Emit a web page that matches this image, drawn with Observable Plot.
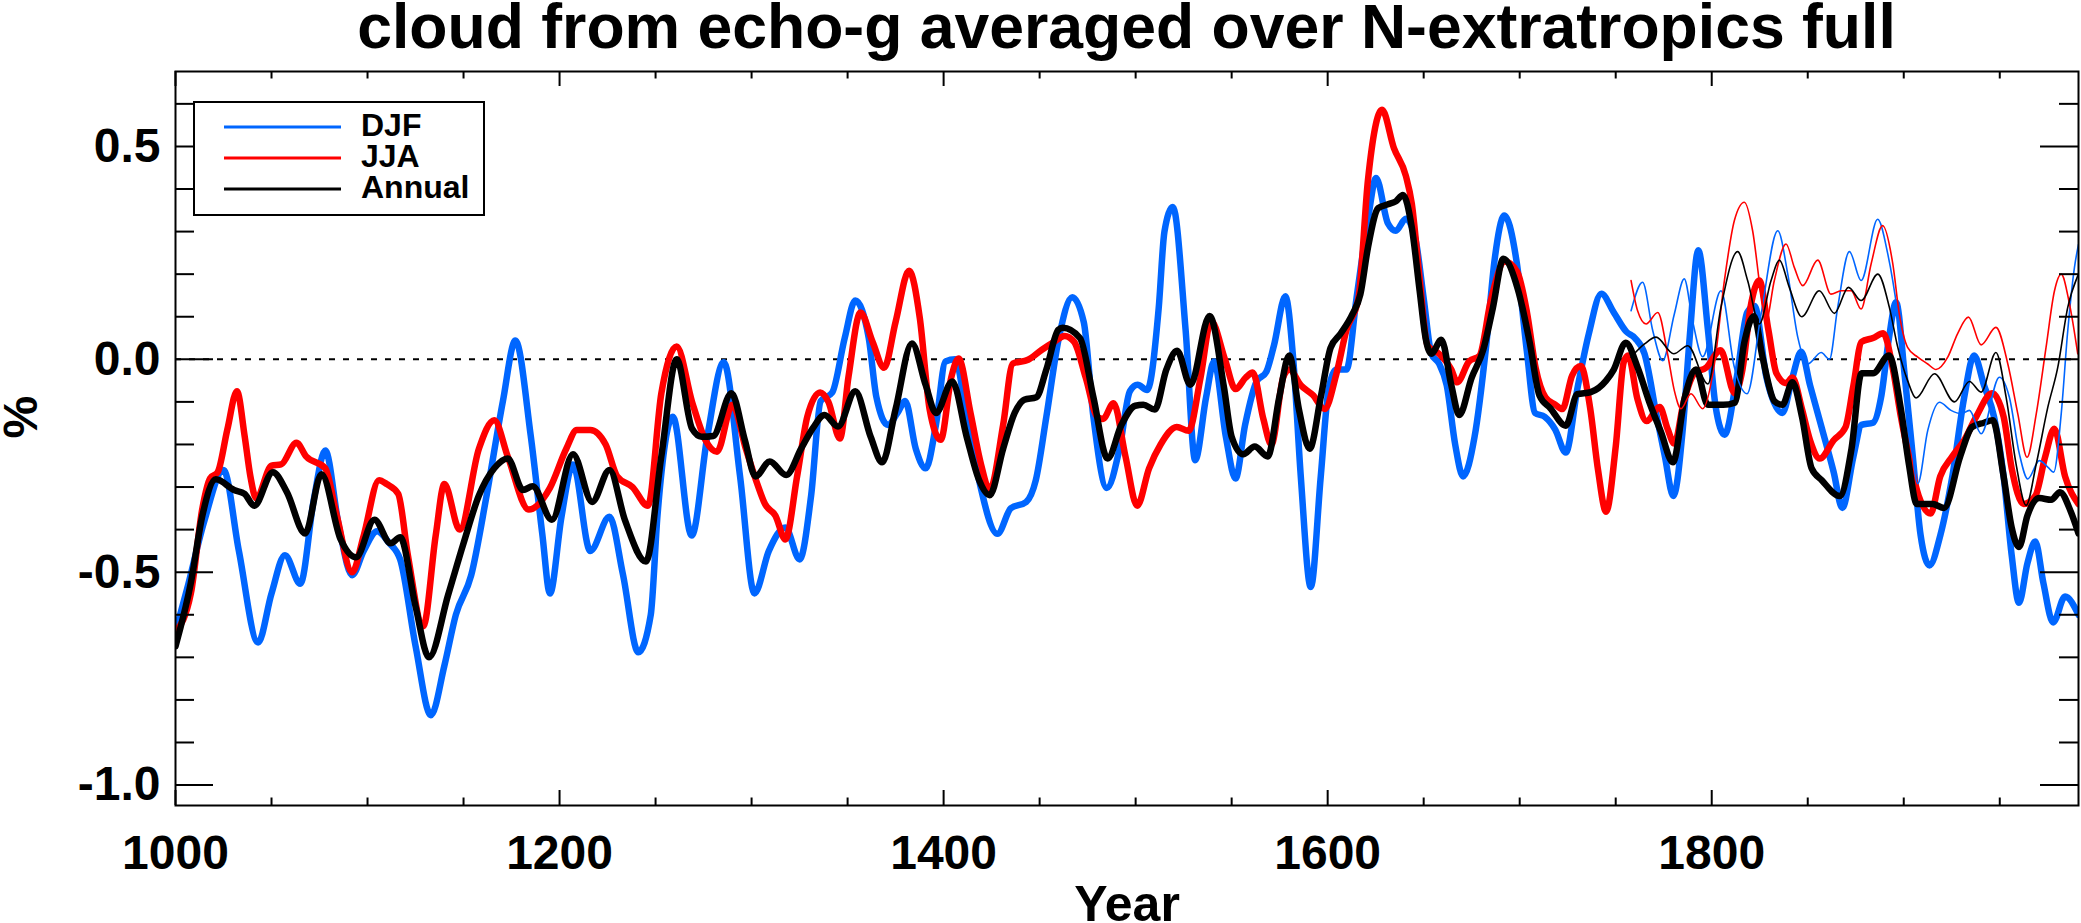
<!DOCTYPE html>
<html><head><meta charset="utf-8">
<script src="https://cdn.jsdelivr.net/npm/d3@7"></script>
<script src="https://cdn.jsdelivr.net/npm/@observablehq/plot@0.6"></script>
<style>
body{margin:0;background:#fff;font-family:"Liberation Sans",Arial,sans-serif;}
#wrap{position:relative;width:2081px;height:923px;overflow:hidden;background:#fff}
#title{box-sizing:border-box;height:66px;padding-left:175px;padding-right:3px;text-align:center;font-weight:bold;font-size:62.5px;white-space:nowrap;line-height:52px;overflow:visible}
#legend{position:absolute;left:193px;top:101px;}
#chart svg{display:block}
</style></head>
<body>
<div id="wrap">
  <div id="title">cloud from echo-g averaged over N-extratropics full</div>
  <div id="chart"></div>
  <svg id="legend" width="292" height="115"></svg>
</div>
<script>
// ---- data: [year, % anomaly] ----
const djf = [[1000,-0.64],[1006,-0.54],[1015,-0.38],[1025,-0.26],[1033,-0.45],[1043,-0.665],[1050,-0.55],[1057,-0.46],[1065,-0.527],[1072,-0.33],[1078,-0.214],[1085,-0.39],[1092,-0.507],[1098,-0.45],[1105,-0.404],[1111,-0.43],[1117,-0.47],[1125,-0.673],[1133,-0.836],[1140,-0.72],[1146,-0.6],[1154,-0.507],[1162,-0.32],[1170.5,-0.098],[1177,0.044],[1185,-0.18],[1191,-0.41],[1195,-0.55],[1201,-0.37],[1207,-0.247],[1216,-0.45],[1226,-0.37],[1233,-0.505],[1241,-0.688],[1247.5,-0.6],[1251,-0.367],[1259,-0.135],[1268.8,-0.414],[1277,-0.18],[1285.5,-0.007],[1294,-0.275],[1301.5,-0.55],[1309,-0.45],[1317.6,-0.395],[1325,-0.47],[1331,-0.32],[1336,-0.098],[1342,-0.078],[1348.5,0.05],[1354,0.138],[1361,0.05],[1365,-0.089],[1371,-0.154],[1376,-0.126],[1380,-0.098],[1385.5,-0.21],[1390.7,-0.256],[1396,-0.154],[1401,-0.005],[1406,0],[1412,-0.135],[1418,-0.275],[1428,-0.41],[1435,-0.35],[1443,-0.335],[1448,-0.284],[1453.5,-0.135],[1460,0.05],[1467,0.146],[1473,0.087],[1478,-0.135],[1485,-0.302],[1491.6,-0.21],[1497,-0.075],[1501,-0.06],[1506,-0.072],[1512,0.12],[1515,0.3],[1519.4,0.358],[1526,0.07],[1531,-0.237],[1536.7,-0.089],[1540.8,-0.005],[1547,-0.182],[1552,-0.28],[1557,-0.154],[1563,-0.052],[1568,-0.03],[1572,0.032],[1578,0.148],[1582,0.004],[1586,-0.275],[1591.2,-0.535],[1596.4,-0.275],[1600.5,-0.07],[1604.6,-0.024],[1609.8,-0.024],[1615,0.143],[1621,0.329],[1625.2,0.426],[1631.4,0.319],[1635.5,0.302],[1640.7,0.33],[1645.8,0.28],[1650,0.143],[1654,0.013],[1658,-0.01],[1662,-0.061],[1666.4,-0.2],[1670.5,-0.275],[1676.5,-0.182],[1682.5,0.03],[1687,0.236],[1692,0.338],[1698.5,0.226],[1703.7,0.02],[1708,-0.126],[1713,-0.135],[1718.5,-0.165],[1724,-0.219],[1730,-0.07],[1736,0.06],[1742.5,0.154],[1749,0.11],[1755.5,0.065],[1760,0.05],[1765,0.013],[1771.4,-0.135],[1775.6,-0.228],[1780,-0.321],[1785,-0.16],[1788.5,0.05],[1793,0.256],[1798,0.07],[1802,-0.11],[1806.7,-0.177],[1813,-0.043],[1818.5,0.11],[1822.3,0.125],[1828.5,-0.043],[1836.8,-0.126],[1842,-0.043],[1846.6,0.018],[1851.2,-0.061],[1857.4,-0.163],[1863.5,-0.265],[1868,-0.349],[1873.8,-0.228],[1878,-0.154],[1884,-0.149],[1888.2,-0.089],[1892.3,0.05],[1896,0.134],[1900.6,-0.043],[1904.7,-0.228],[1908.8,-0.414],[1913.4,-0.484],[1919,-0.414],[1925.3,-0.275],[1931.5,-0.089],[1936.6,0.009],[1941.8,-0.061],[1947,-0.135],[1952,-0.275],[1956.2,-0.46],[1960,-0.572],[1964.4,-0.479],[1968.5,-0.428],[1972.7,-0.525],[1977.8,-0.618],[1984,-0.557],[1991,-0.6]];

const jja = [[1000,-0.64],[1008,-0.55],[1014,-0.35],[1018,-0.28],[1022,-0.265],[1027,-0.165],[1032,-0.075],[1036,-0.18],[1039,-0.275],[1042,-0.326],[1050,-0.25],[1055,-0.247],[1063,-0.196],[1068,-0.228],[1078,-0.256],[1084,-0.367],[1092,-0.5],[1098,-0.414],[1106,-0.284],[1110,-0.293],[1116,-0.316],[1121,-0.46],[1129,-0.627],[1135.5,-0.414],[1140,-0.293],[1148,-0.4],[1158,-0.21],[1166,-0.143],[1173,-0.228],[1184,-0.353],[1195,-0.302],[1203.5,-0.21],[1209,-0.166],[1216,-0.166],[1224,-0.2],[1230,-0.275],[1238,-0.3],[1246,-0.344],[1253,-0.08],[1261,0.03],[1269,-0.1],[1276,-0.19],[1282,-0.217],[1290,-0.107],[1297,-0.21],[1303,-0.293],[1307,-0.34],[1312.4,-0.367],[1317.6,-0.423],[1323.7,-0.275],[1329,-0.135],[1335.7,-0.078],[1340,-0.1],[1346,-0.186],[1350.5,-0.04],[1356.7,0.11],[1363,0.041],[1369,-0.02],[1375,0.088],[1382,0.208],[1387.6,0.097],[1392.7,-0.117],[1398.5,-0.189],[1404,-0.042],[1407.8,0.002],[1414,-0.126],[1419.5,-0.247],[1424,-0.307],[1431,-0.154],[1436,-0.01],[1444,-0.001],[1451,0.022],[1457.6,0.041],[1463,0.055],[1468,0.041],[1474,-0.043],[1480,-0.135],[1483,-0.14],[1488.5,-0.103],[1494.7,-0.228],[1500.8,-0.344],[1507,-0.256],[1513,-0.2],[1521.4,-0.159],[1527.6,-0.168],[1533.8,-0.043],[1539.3,0.09],[1546.5,0.0],[1552,-0.07],[1557.3,-0.043],[1561,-0.031],[1566.5,-0.14],[1570.7,-0.2],[1576.8,-0.043],[1580,-0.024],[1586,-0.061],[1592.3,-0.084],[1598.4,-0.117],[1604.6,-0.033],[1609.8,0.069],[1616,0.143],[1621,0.422],[1628.3,0.586],[1634.5,0.496],[1640.7,0.431],[1643.8,0.366],[1647.9,0.189],[1652,0.032],[1658,0.013],[1664.4,-0.024],[1667.4,-0.054],[1673.6,-0.005],[1679,0.008],[1685.2,0.143],[1692.3,0.23],[1698.8,0.205],[1703.8,0.11],[1708.3,-0.02],[1713.4,-0.089],[1718.7,-0.107],[1722.2,-0.117],[1727.3,-0.038],[1731.8,-0.016],[1736.7,-0.115],[1740.8,-0.26],[1745,-0.358],[1750,-0.205],[1754.2,-0.006],[1756.5,0.009],[1761.3,-0.093],[1766,-0.145],[1772.9,-0.112],[1777,-0.163],[1780.5,-0.198],[1785.5,-0.098],[1791,-0.033],[1797,-0.02],[1804.6,0.021],[1812,-0.08],[1816,-0.024],[1820.3,0.125],[1824.8,0.185],[1829.5,0.069],[1833.7,-0.033],[1838.8,-0.056],[1842,-0.043],[1847,-0.117],[1851.2,-0.19],[1856.3,-0.233],[1863.5,-0.19],[1869.7,-0.159],[1873.8,-0.061],[1878,0.041],[1884,0.05],[1889.3,0.061],[1894.4,-0.024],[1898.5,-0.135],[1902.7,-0.228],[1907.8,-0.321],[1914,-0.362],[1919,-0.275],[1925.3,-0.228],[1931.5,-0.19],[1937.7,-0.135],[1946,-0.08],[1952,-0.135],[1956.2,-0.256],[1962.4,-0.34],[1968.5,-0.321],[1973.7,-0.228],[1978.4,-0.163],[1984,-0.275],[1991,-0.34]];

const annual = [[1000,-0.674],[1008,-0.525],[1014,-0.367],[1021,-0.282],[1030.5,-0.307],[1036,-0.316],[1041,-0.344],[1050.7,-0.265],[1058,-0.312],[1067.5,-0.409],[1076,-0.27],[1086,-0.423],[1094,-0.465],[1103.6,-0.377],[1112,-0.432],[1117,-0.418],[1125,-0.58],[1132,-0.7],[1142,-0.553],[1150,-0.432],[1158,-0.32],[1166,-0.256],[1173,-0.233],[1181,-0.307],[1186,-0.298],[1196,-0.377],[1207,-0.223],[1217,-0.335],[1226,-0.26],[1234,-0.377],[1245,-0.475],[1253,-0.228],[1261,0.0],[1269,-0.163],[1274,-0.182],[1280,-0.18],[1289.5,-0.08],[1296.5,-0.19],[1302,-0.275],[1309.5,-0.24],[1318,-0.272],[1325.8,-0.21],[1332,-0.161],[1338,-0.131],[1345,-0.158],[1354,-0.075],[1362,-0.182],[1368,-0.242],[1375,-0.117],[1383.5,0.037],[1390.7,-0.061],[1396,-0.126],[1404.5,-0.052],[1412,-0.182],[1418.5,-0.284],[1424,-0.319],[1431,-0.21],[1437,-0.126],[1442,-0.095],[1448.3,-0.089],[1453.5,-0.024],[1459.7,0.069],[1462,0.074],[1471,0.05],[1478,-0.089],[1485.4,-0.233],[1492.6,-0.154],[1499.8,-0.109],[1504,-0.107],[1510,-0.118],[1516,-0.024],[1521.6,0.02],[1528.5,-0.06],[1538.5,0.102],[1546,-0.066],[1550,-0.182],[1556,-0.223],[1562,-0.205],[1568.8,-0.228],[1574.8,-0.089],[1580,0.009],[1585,-0.117],[1590.6,-0.21],[1596.4,-0.089],[1601.5,0.027],[1606.7,0.06],[1612.9,0.106],[1617,0.152],[1621,0.263],[1626.3,0.355],[1631.4,0.364],[1635.5,0.371],[1639.2,0.386],[1643.8,0.31],[1647.9,0.161],[1651,0.05],[1654,0.013],[1659.2,0.046],[1664.4,-0.061],[1668.5,-0.131],[1675,-0.043],[1681,0.022],[1686,0.12],[1691.5,0.236],[1699,0.165],[1705.2,0.04],[1710.3,-0.085],[1716,-0.115],[1724,-0.156],[1730,-0.082],[1737,-0.077],[1745,-0.05],[1749,-0.024],[1755.2,0.039],[1761.5,-0.02],[1767.3,-0.098],[1773.5,-0.17],[1779.8,-0.242],[1786,-0.089],[1791.8,-0.024],[1798,-0.107],[1806,-0.107],[1812,-0.102],[1817,0.04],[1822,0.101],[1826.5,0.004],[1832.6,-0.098],[1836.8,-0.107],[1842,-0.054],[1847,-0.135],[1852,-0.256],[1857.3,-0.284],[1866.6,-0.321],[1872.8,-0.21],[1878,-0.033],[1884,-0.033],[1892.3,0.009],[1898.5,-0.117],[1902.7,-0.247],[1906.8,-0.34],[1915,-0.34],[1921,-0.349],[1929.4,-0.228],[1935.6,-0.159],[1941.8,-0.149],[1946.3,-0.143],[1952,-0.275],[1956.2,-0.395],[1960,-0.441],[1964.4,-0.367],[1970.6,-0.326],[1976.8,-0.33],[1981.3,-0.312],[1987,-0.358],[1991,-0.409]];

const djfThin = [[1758,0.114],[1764,0.181],[1769.3,0.067],[1774.5,-0.003],[1780.5,0.106],[1785.7,0.189],[1790,0.091],[1795.3,0.006],[1804.8,0.161],[1811.8,-0.019],[1818.4,-0.081],[1825.7,0.106],[1834.4,0.302],[1839.6,0.2],[1844.8,0.052],[1850,-0.011],[1857,0.016],[1861.3,0],[1865.6,0.122],[1871.7,0.253],[1877.8,0.185],[1886.4,0.329],[1891.7,0.247],[1896.9,0.106],[1902,-0.089],[1907.3,-0.292],[1912.5,-0.167],[1918.6,-0.101],[1924.6,-0.12],[1929.9,-0.128],[1934.2,-0.12],[1940.3,-0.175],[1949.8,-0.042],[1955,-0.089],[1960.2,-0.222],[1964.6,-0.281],[1970.6,-0.238],[1975,-0.253],[1978.1,-0.265],[1982,-0.128],[1985.4,0.067],[1988.9,0.216],[1991,0.27]];

const jjaThin = [[1758,0.185],[1761.4,0.114],[1765.8,0.083],[1771.9,0.11],[1777,0.013],[1780.5,-0.073],[1784,-0.116],[1789.2,-0.081],[1795.3,-0.116],[1801.4,-0.011],[1806.6,0.185],[1811.8,0.326],[1817,0.369],[1821.3,0.302],[1825.7,0.153],[1828.3,0.091],[1832.6,0.185],[1838.7,0.271],[1843,0.216],[1847.4,0.173],[1855.2,0.233],[1862.1,0.153],[1867.4,0.161],[1872.6,0.161],[1877.8,0.118],[1883,0.224],[1889,0.314],[1894.3,0.224],[1897.7,0.106],[1902,0.028],[1907.3,0.005],[1912.5,-0.011],[1916.8,-0.024],[1922.9,0.005],[1928,0.06],[1933.7,0.099],[1940.3,0.034],[1948,0.075],[1954.2,-0.011],[1959.4,-0.128],[1964.2,-0.23],[1969,-0.128],[1974.1,0.028],[1978.5,0.161],[1982,0.2],[1986.3,0.13],[1990.6,0.013]];

const annualThin = [[1758,0.005],[1765,0.036],[1771,0.052],[1780.2,0.013],[1787.5,0.032],[1798,-0.058],[1804.8,0.122],[1813.5,0.253],[1818.7,0.185],[1824.8,0.083],[1830.9,0.185],[1835.2,0.233],[1840.4,0.169],[1846.9,0.1],[1856,0.161],[1863.9,0.108],[1871.2,0.169],[1877.8,0.138],[1886.5,0.2],[1892.5,0.122],[1896.9,0.028],[1902,-0.05],[1906.4,-0.091],[1916,-0.034],[1926.4,-0.1],[1934.2,-0.052],[1940.3,-0.077],[1948,0.016],[1953.3,-0.089],[1958.5,-0.246],[1963.7,-0.343],[1969,-0.246],[1975,-0.113],[1980.2,-0.019],[1985.4,0.122],[1990.6,0.196]];

const legendLabels = ["DJF", "JJA", "Annual"];
const xTickLabels = [1000, 1200, 1400, 1600, 1800];
const yTickLabels = [-1.0, -0.5, 0.0, 0.5];
const xMinorTicks = [1050,1100,1150,1250,1300,1350,1450,1500,1550,1650,1700,1750,1850,1900,1950];
const yMinorTicks = [-0.9,-0.8,-0.7,-0.6,-0.4,-0.3,-0.2,-0.1,0.1,0.2,0.3,0.4,0.6];

// ---- styles / layout ----
const BLUE = "rgb(0,102,255)", RED = "rgb(255,0,0)", BLACK = "#000";
const colors = [BLUE, RED, BLACK];
const W = 2081, H = 857, mL = 175, mR = 3, mT = 5, mB = 118;
const pW = W - mL - mR, pH = H - mT - mB;
const X = d => d[0], Y = d => d[1];
const thick = 6.5, thin = 1.6;
const lineOpts = (c, w) => ({x: X, y: Y, stroke: c, strokeWidth: w, curve: "monotone-x", strokeLinejoin: "round", strokeLinecap: "round", clip: true});

const chart = Plot.plot({
  width: W, height: H,
  marginLeft: mL, marginRight: mR, marginTop: mT, marginBottom: mB,
  x: {domain: [1000, 1991]},
  y: {domain: [-1.048, 0.676]},
  style: {fontFamily: "'Liberation Sans', Arial, sans-serif", background: "white", color: "black"},
  marks: [
    Plot.ruleY([0], {strokeDasharray: "6,8", strokeWidth: 2}),
    Plot.line(djf, lineOpts(BLUE, thick)),
    Plot.line(jja, lineOpts(RED, thick)),
    Plot.line(annual, lineOpts(BLACK, thick)),
    Plot.line(djfThin, lineOpts(BLUE, thin)),
    Plot.line(jjaThin, lineOpts(RED, thin)),
    Plot.line(annualThin, lineOpts(BLACK, thin)),
    Plot.frame({strokeWidth: 2}),
    // inward ticks, all four sides
    Plot.tickY(yTickLabels, {y: d => d, insetRight: pW - 38, strokeWidth: 2}),
    Plot.tickY(yMinorTicks, {y: d => d, insetRight: pW - 19, strokeWidth: 2}),
    Plot.tickY(yTickLabels, {y: d => d, insetLeft: pW - 38, strokeWidth: 2}),
    Plot.tickY(yMinorTicks, {y: d => d, insetLeft: pW - 19, strokeWidth: 2}),
    Plot.tickX(xTickLabels, {x: d => d, insetTop: pH - 15, strokeWidth: 2}),
    Plot.tickX(xMinorTicks, {x: d => d, insetTop: pH - 7.5, strokeWidth: 2}),
    Plot.tickX(xTickLabels, {x: d => d, insetBottom: pH - 15, strokeWidth: 2}),
    Plot.tickX(xMinorTicks, {x: d => d, insetBottom: pH - 7.5, strokeWidth: 2}),
    Plot.axisY(yTickLabels, {anchor: "left", tickSize: 0, tickPadding: 15, tickFormat: d => d.toFixed(1), fontSize: 48, fontWeight: "bold", label: null}),
    Plot.axisX(xTickLabels, {anchor: "bottom", tickSize: 0, tickPadding: 29, tickFormat: d => String(d), fontSize: 48, fontWeight: "bold", label: null}),
    Plot.text(["Year"], {frameAnchor: "bottom", lineAnchor: "top", dy: 80, fontSize: 50, fontWeight: "bold"}),
    Plot.text(["%"], {frameAnchor: "left", rotate: -90, dx: -154, fontSize: 48, fontWeight: "bold"})
  ]
});
document.getElementById("chart").appendChild(chart);

// ---- legend (overlay) ----
const lg = d3.select("#legend");
lg.append("rect").attr("x", 1).attr("y", 1).attr("width", 290).attr("height", 113)
  .attr("fill", "white").attr("stroke", "black").attr("stroke-width", 2);
legendLabels.forEach((name, i) => {
  const yy = 26 + i * 31;
  lg.append("line").attr("x1", 31).attr("x2", 148).attr("y1", yy).attr("y2", yy)
    .attr("stroke", colors[i]).attr("stroke-width", 3);
  lg.append("text").attr("x", 168).attr("y", yy + 8.5).text(name)
    .attr("font-family", "'Liberation Sans', Arial, sans-serif").attr("font-weight", "bold")
    .attr("font-size", 32).attr("fill", "black");
});
</script>
</body></html>
